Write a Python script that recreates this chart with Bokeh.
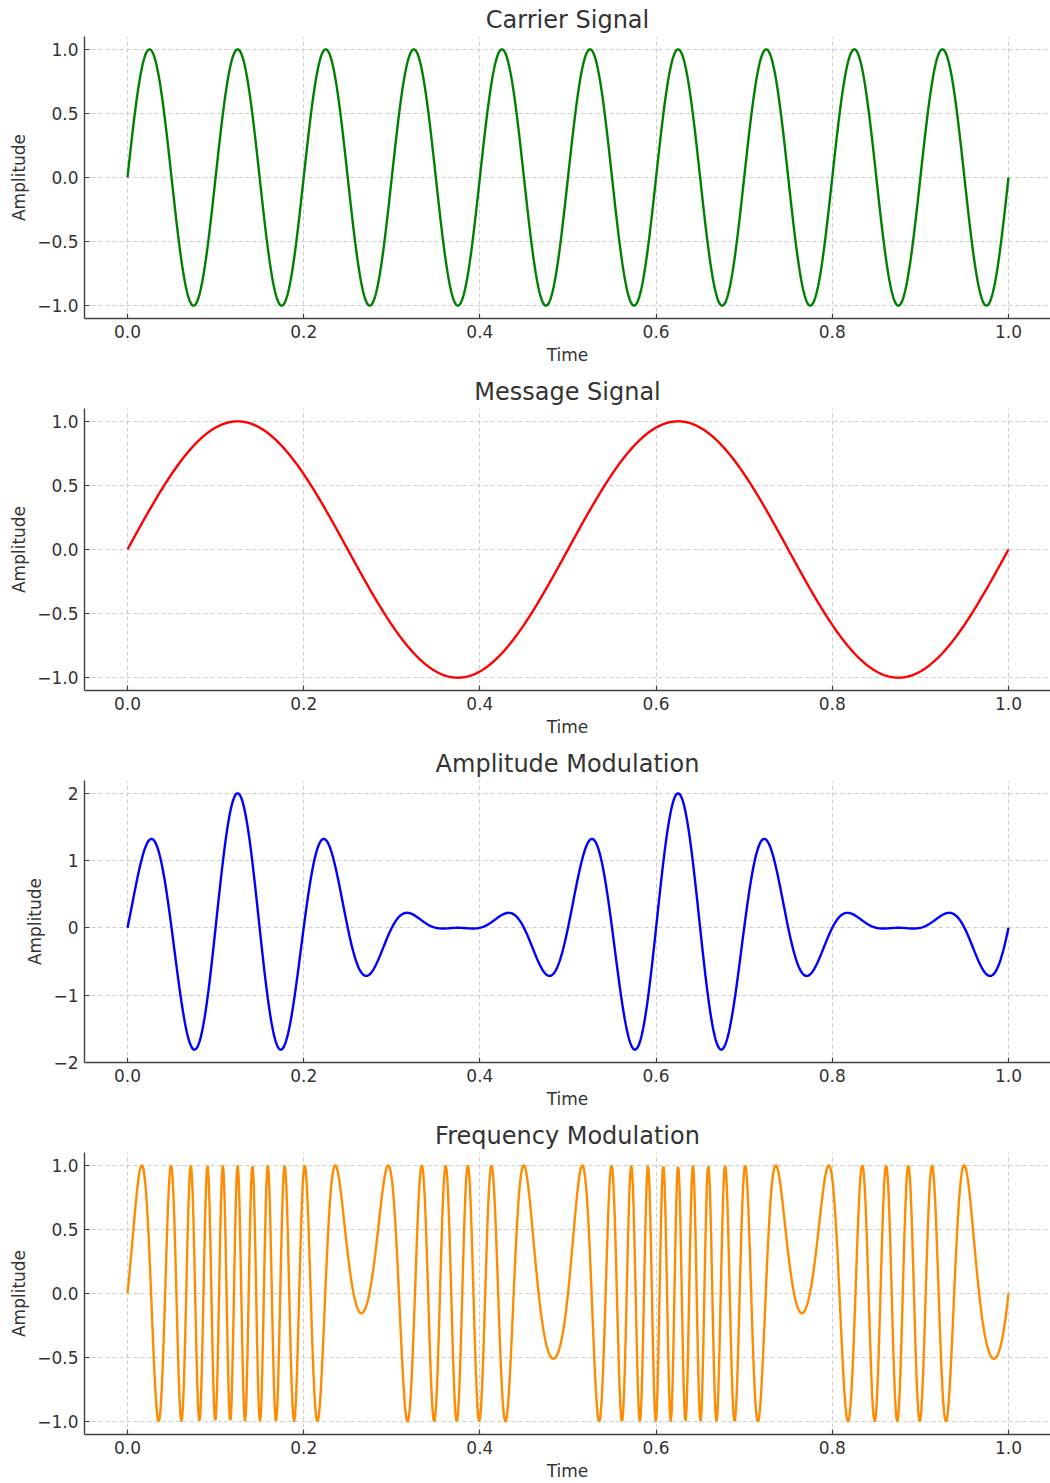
import numpy as np
from bokeh.plotting import figure
from bokeh.layouts import column
from bokeh.models import Range1d, FixedTicker
from bokeh.embed import file_html
from bokeh.resources import INLINE

# ---- data / parameters ----
sample_rate = 1000     # samples over the 1 s window
carrier_freq = 10      # Hz, 10 cycles over 1 s
message_freq = 2       # Hz, 2 cycles over 1 s
freq_deviation = 50    # Hz, FM deviation

titles = ["Carrier Signal", "Message Signal", "Amplitude Modulation", "Frequency Modulation"]
colors = ["green", "red", "blue", "darkorange"]

x_ticks = [0.0, 0.2, 0.4, 0.6, 0.8, 1.0]
x_tick_labels = ["0.0", "0.2", "0.4", "0.6", "0.8", "1.0"]
y_ticks_unit = [-1.0, -0.5, 0.0, 0.5, 1.0]
y_tick_labels_unit = ["\u22121.0", "\u22120.5", "0.0", "0.5", "1.0"]
y_ticks_am = [-2, -1, 0, 1, 2]
y_tick_labels_am = ["\u22122", "\u22121", "0", "1", "2"]

t = np.linspace(0, 1, sample_rate)
carrier = np.sin(2 * np.pi * carrier_freq * t)
message = np.sin(2 * np.pi * message_freq * t)
am = (1 + message) * carrier
fm = np.sin(2 * np.pi * carrier_freq * t + 2 * np.pi * freq_deviation * np.cumsum(message) / sample_rate)
signals = [carrier, message, am, fm]

TEXT = "#333333"
FONT = "DejaVu Sans"


def make_panel(i, sig):
    last = (i == 3)
    y_lo, y_hi = float(sig.min()), float(sig.max())
    pad = 0.05 * (y_hi - y_lo)
    h = 367 if last else 372
    p = figure(width=1050, height=h, output_backend="svg", toolbar_location=None,
               x_range=Range1d(-0.0488, 1.0477), y_range=Range1d(y_lo - pad, y_hi + pad),
               min_border_left=84, min_border_right=0, min_border_top=36,
               min_border_bottom=49 if last else 54, title=titles[i])
    p.line(t, sig, line_color=colors[i], line_width=2.4)
    p.title.text_font = FONT
    p.title.text_font_size = "24px"
    p.title.text_font_style = "normal"
    p.title.text_color = TEXT
    p.title.align = "center"
    p.title.standoff = 6
    p.outline_line_color = None
    p.background_fill_color = "white"
    p.border_fill_color = "white"

    if i == 2:
        yt, yl = y_ticks_am, y_tick_labels_am
    else:
        yt, yl = y_ticks_unit, y_tick_labels_unit
    p.xaxis.ticker = FixedTicker(ticks=x_ticks)
    p.xaxis.major_label_overrides = {k: v for k, v in zip(x_ticks, x_tick_labels)}
    p.yaxis.ticker = FixedTicker(ticks=yt)
    p.yaxis.major_label_overrides = {k: v for k, v in zip(yt, yl)}
    p.xaxis.axis_label = "Time"
    p.yaxis.axis_label = "Amplitude"
    for ax in (p.xaxis, p.yaxis):
        ax.axis_line_color = "#404040"
        ax.axis_line_width = 1.4
        ax.major_tick_line_color = "#404040"
        ax.major_tick_line_width = 1.2
        ax.major_tick_in = 5
        ax.major_tick_out = 0
        ax.minor_tick_line_color = None
        ax.major_label_text_font = FONT
        ax.major_label_text_font_size = "17px"
        ax.major_label_text_color = TEXT
        ax.axis_label_text_font = FONT
        ax.axis_label_text_font_size = "17px"
        ax.axis_label_text_font_style = "normal"
        ax.axis_label_text_color = TEXT
        ax.major_label_standoff = 6
    p.yaxis.axis_label_standoff = 5
    p.xaxis.axis_label_standoff = 4
    for g in (p.xgrid, p.ygrid):
        g.grid_line_color = "#cccccc"
        g.grid_line_width = 1
        g.grid_line_dash = "4 3"
    return p


panels = [make_panel(i, s) for i, s in enumerate(signals)]
layout = column(*panels, spacing=0)
open("out.html", "w").write(file_html(layout, INLINE))
